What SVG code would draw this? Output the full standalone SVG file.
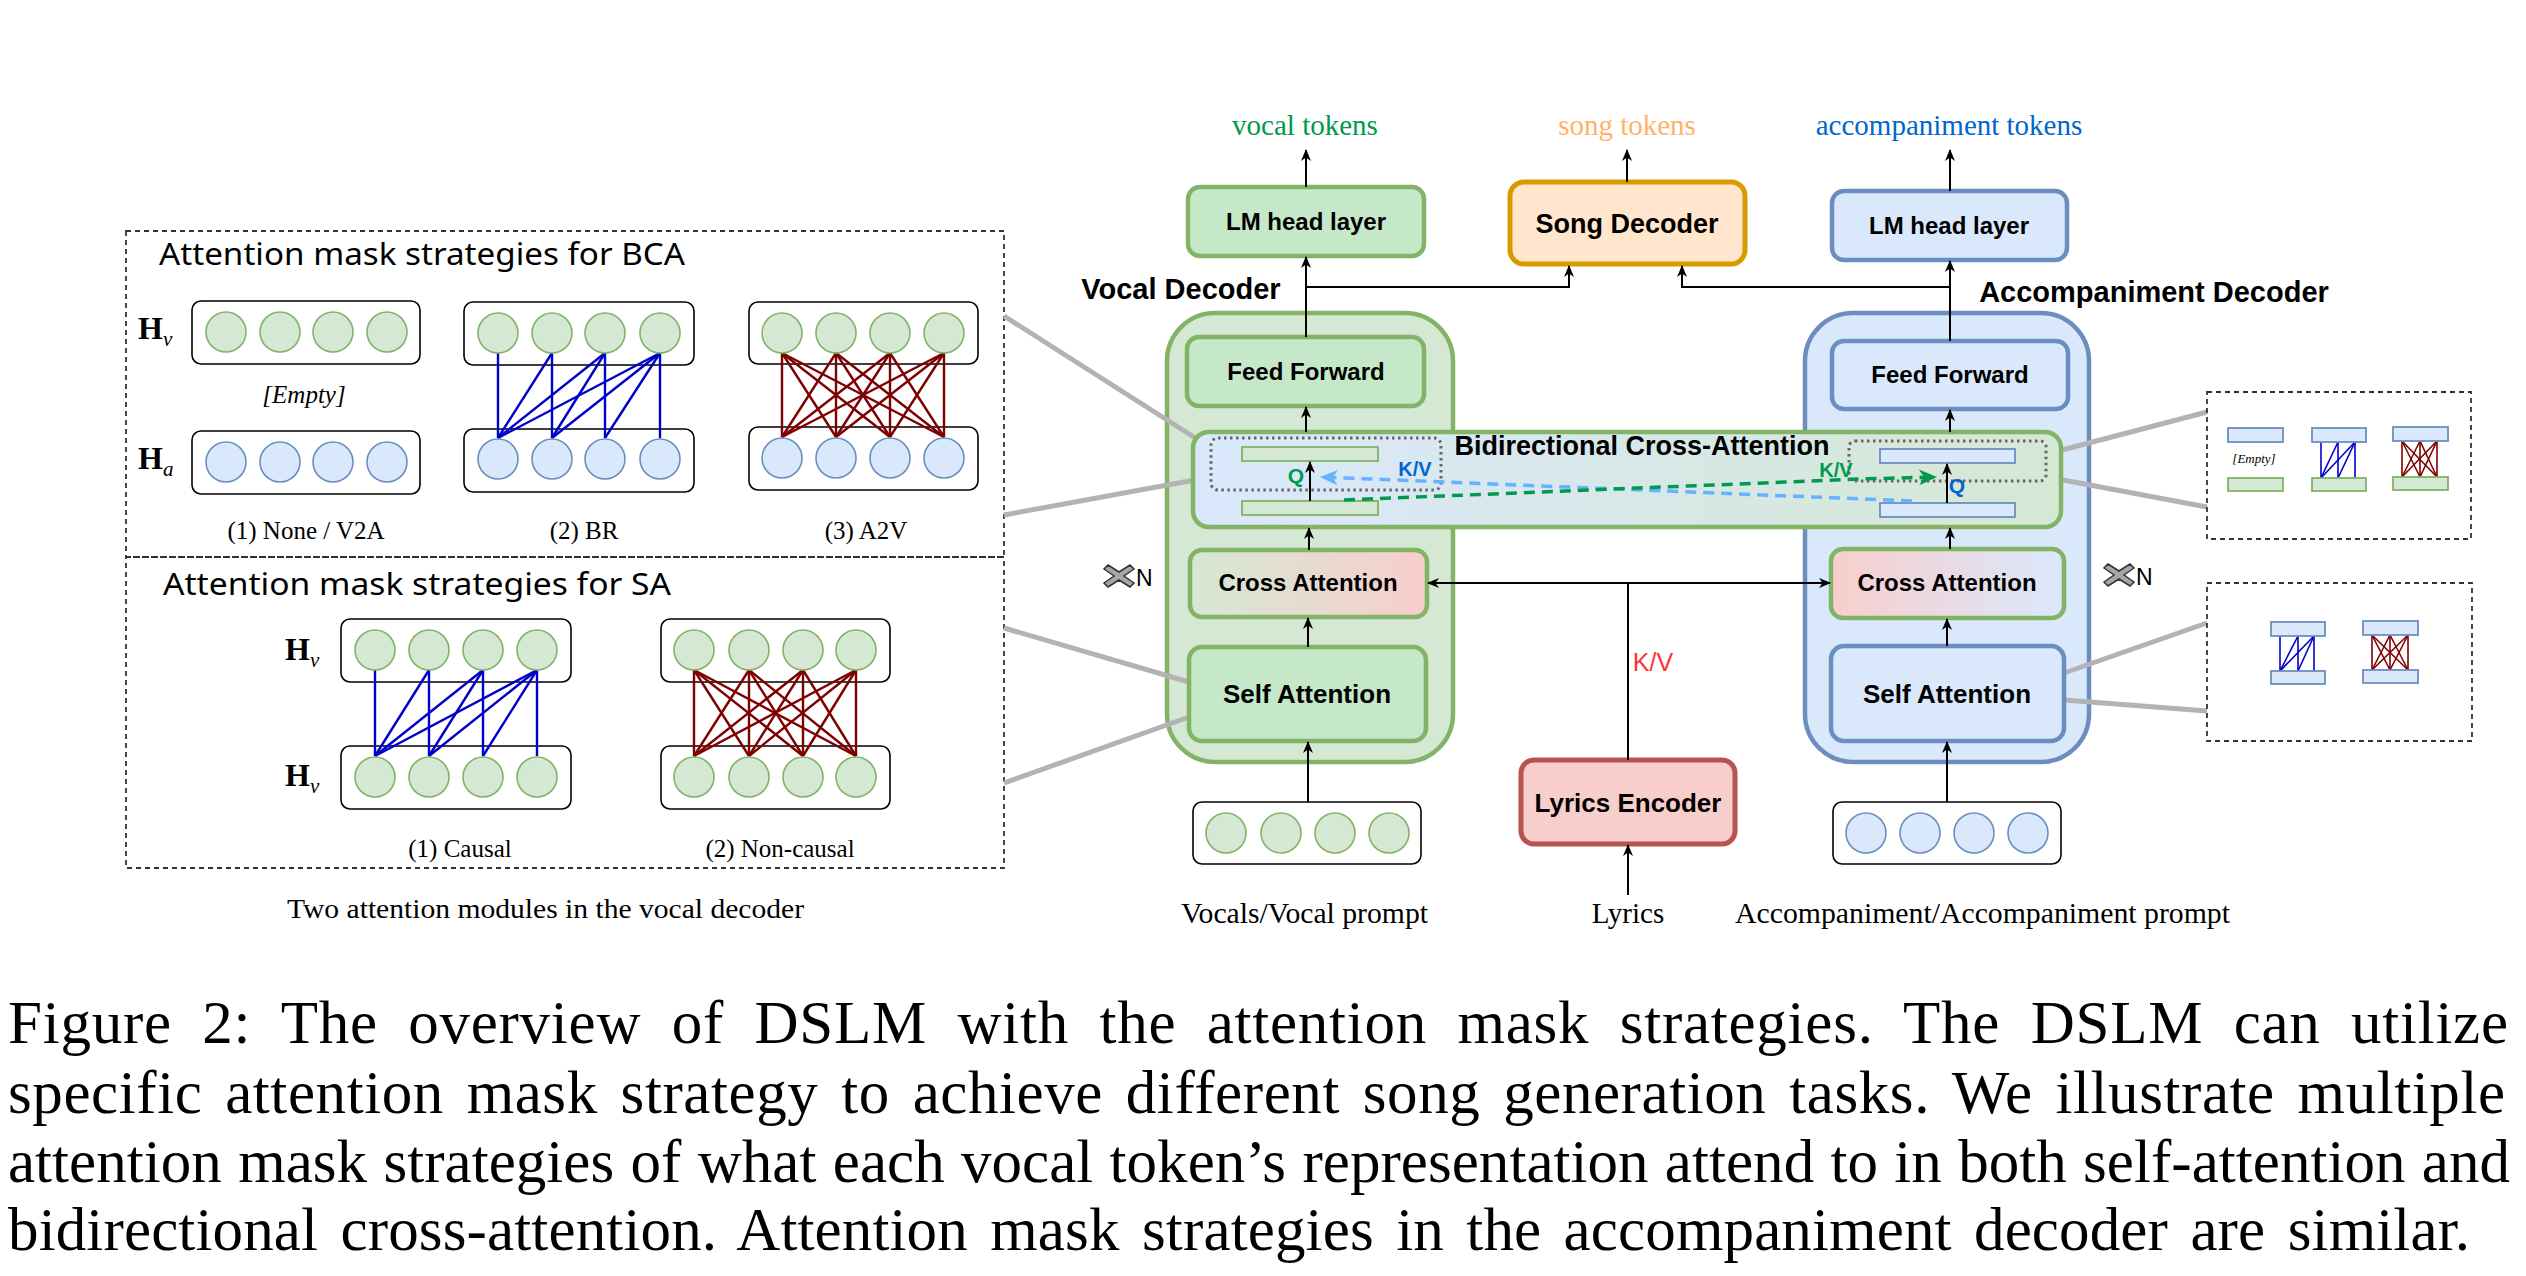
<svg xmlns="http://www.w3.org/2000/svg" width="2526" height="1276" viewBox="0 0 2526 1276">
<style>
.bg{fill:#fff}
.dash{fill:none;stroke:#333;stroke-width:1.8;stroke-dasharray:5 4}
.title{font-family:"Noto Sans","DejaVu Sans",sans-serif;font-size:31px;fill:#000}
.serif{font-family:"Liberation Serif","Times New Roman",serif;fill:#000}
.lab{font-family:"Liberation Serif",serif;font-size:25px;text-anchor:middle;fill:#000}
.tok{font-family:"Liberation Serif",serif;font-size:29px;text-anchor:middle}
.bold{font-family:"Liberation Sans",Arial,sans-serif;font-weight:bold;fill:#000;text-anchor:middle}
.row{fill:#fff;stroke:#000;stroke-width:1.6}
.gc{fill:#d5e8d4;stroke:#82b366;stroke-width:1.6}
.bc{fill:#dae8fc;stroke:#6c8ebf;stroke-width:1.6}
.bl{stroke:#0000cc;stroke-width:2.4;fill:none}
.rd{stroke:#7f0000;stroke-width:2.4;fill:none}
.blt{stroke:#0000cc;stroke-width:1.6;fill:none}
.rdt{stroke:#7f0000;stroke-width:1.6;fill:none}
.gray{stroke:#b3b3b3;stroke-width:5;fill:none}
.arr{stroke:#000;stroke-width:2;fill:none;marker-end:url(#ah)}
.ln{stroke:#000;stroke-width:2;fill:none}
.gbox{fill:#c5e8c8;stroke:#82b366;stroke-width:4.5}
.bbox{fill:#dae8fc;stroke:#6c8ebf;stroke-width:4.5}
.dot{fill:none;stroke:#666;stroke-width:3;stroke-dasharray:2.5 3.5}
.srg{fill:#d5e8d4;stroke:#82b366;stroke-width:1.8}
.srb{fill:#dae8fc;stroke:#6c8ebf;stroke-width:1.8}
.xn{fill:#a6a6a6;stroke:#333;stroke-width:1.5}
.hl{font-family:"Liberation Serif",serif;font-size:32px;font-weight:bold;fill:#000}
.sub{font-style:italic;font-weight:normal;font-size:21px}
</style>
<defs>
<marker id="ah" viewBox="0 0 12 10" refX="11" refY="5" markerWidth="12" markerHeight="10" markerUnits="userSpaceOnUse" orient="auto"><path d="M0,0 L12,5 L0,10 L3.5,5 z" fill="#000"/></marker>
<marker id="ahb" viewBox="0 0 16 14" refX="15" refY="7" markerWidth="18" markerHeight="16" markerUnits="userSpaceOnUse" orient="auto"><path d="M0,0 L16,7 L0,14 L4.5,7 z" fill="#66b2ff"/></marker>
<marker id="ahg" viewBox="0 0 16 14" refX="15" refY="7" markerWidth="18" markerHeight="16" markerUnits="userSpaceOnUse" orient="auto"><path d="M0,0 L16,7 L0,14 L4.5,7 z" fill="#00994d"/></marker>
<linearGradient id="bcaG" x1="0" y1="0" x2="1" y2="0"><stop offset="0" stop-color="#dae8fc"/><stop offset="1" stop-color="#d5e8d4"/></linearGradient>
<linearGradient id="caV" x1="0" y1="0" x2="1" y2="0"><stop offset="0" stop-color="#d5e8d4"/><stop offset="1" stop-color="#f8cecc"/></linearGradient>
<linearGradient id="caA" x1="0" y1="0" x2="1" y2="0"><stop offset="0" stop-color="#f8cecc"/><stop offset="1" stop-color="#dae8fc"/></linearGradient>
</defs>
<rect class="bg" x="0" y="0" width="2526" height="1276"/>

<!-- Left panel: BCA strategies -->
<g id="panel-bca">
<rect class="dash" x="126" y="231" width="878" height="326"/>
<text class="title" x="159" y="265" textLength="526" lengthAdjust="spacingAndGlyphs">Attention mask strategies for BCA</text>
<text class="hl" x="138" y="339">H<tspan class="sub" dy="7">v</tspan></text>
<text class="hl" x="138" y="469">H<tspan class="sub" dy="7">a</tspan></text>
<!-- (1) -->
<rect class="row" x="192" y="301" width="228" height="63" rx="9"/>
<circle class="gc" cx="226" cy="332" r="20"/><circle class="gc" cx="280" cy="332" r="20"/><circle class="gc" cx="333" cy="332" r="20"/><circle class="gc" cx="387" cy="332" r="20"/>
<text class="lab" x="304" y="403" font-style="italic">[Empty]</text>
<rect class="row" x="192" y="431" width="228" height="63" rx="9"/>
<circle class="bc" cx="226" cy="462" r="20"/><circle class="bc" cx="280" cy="462" r="20"/><circle class="bc" cx="333" cy="462" r="20"/><circle class="bc" cx="387" cy="462" r="20"/>
<text class="lab" x="306" y="539">(1) None / V2A</text>
<!-- (2) BR -->
<rect class="row" x="464" y="302" width="230" height="63" rx="9"/>
<rect class="row" x="464" y="429" width="230" height="63" rx="9"/>
<g class="bl">
<line x1="498" y1="353" x2="498" y2="438"/>
<line x1="552" y1="353" x2="498" y2="438"/><line x1="552" y1="353" x2="552" y2="438"/>
<line x1="605" y1="353" x2="498" y2="438"/><line x1="605" y1="353" x2="552" y2="438"/><line x1="605" y1="353" x2="605" y2="438"/>
<line x1="660" y1="353" x2="498" y2="438"/><line x1="660" y1="353" x2="552" y2="438"/><line x1="660" y1="353" x2="605" y2="438"/><line x1="660" y1="353" x2="660" y2="438"/>
</g>
<circle class="gc" cx="498" cy="333" r="20"/><circle class="gc" cx="552" cy="333" r="20"/><circle class="gc" cx="605" cy="333" r="20"/><circle class="gc" cx="660" cy="333" r="20"/>
<circle class="bc" cx="498" cy="459" r="20"/><circle class="bc" cx="552" cy="459" r="20"/><circle class="bc" cx="605" cy="459" r="20"/><circle class="bc" cx="660" cy="459" r="20"/>
<text class="lab" x="584" y="539">(2) BR</text>
<!-- (3) A2V -->
<rect class="row" x="749" y="302" width="229" height="62" rx="9"/>
<rect class="row" x="749" y="427" width="229" height="63" rx="9"/>
<g class="rd">
<line x1="782" y1="353" x2="782" y2="437"/><line x1="782" y1="353" x2="836" y2="437"/><line x1="782" y1="353" x2="890" y2="437"/><line x1="782" y1="353" x2="944" y2="437"/>
<line x1="836" y1="353" x2="782" y2="437"/><line x1="836" y1="353" x2="836" y2="437"/><line x1="836" y1="353" x2="890" y2="437"/><line x1="836" y1="353" x2="944" y2="437"/>
<line x1="890" y1="353" x2="782" y2="437"/><line x1="890" y1="353" x2="836" y2="437"/><line x1="890" y1="353" x2="890" y2="437"/><line x1="890" y1="353" x2="944" y2="437"/>
<line x1="944" y1="353" x2="782" y2="437"/><line x1="944" y1="353" x2="836" y2="437"/><line x1="944" y1="353" x2="890" y2="437"/><line x1="944" y1="353" x2="944" y2="437"/>
</g>
<circle class="gc" cx="782" cy="333" r="20"/><circle class="gc" cx="836" cy="333" r="20"/><circle class="gc" cx="890" cy="333" r="20"/><circle class="gc" cx="944" cy="333" r="20"/>
<circle class="bc" cx="782" cy="458" r="20"/><circle class="bc" cx="836" cy="458" r="20"/><circle class="bc" cx="890" cy="458" r="20"/><circle class="bc" cx="944" cy="458" r="20"/>
<text class="lab" x="866" y="539">(3) A2V</text>
</g>

<!-- Left panel: SA strategies -->
<g id="panel-sa">
<rect class="dash" x="126" y="557" width="878" height="311"/>
<text class="title" x="163" y="595" textLength="508" lengthAdjust="spacingAndGlyphs">Attention mask strategies for SA</text>
<text class="hl" x="285" y="660">H<tspan class="sub" dy="7">v</tspan></text>
<text class="hl" x="285" y="786">H<tspan class="sub" dy="7">v</tspan></text>
<rect class="row" x="341" y="619" width="230" height="63" rx="9"/>
<rect class="row" x="341" y="746" width="230" height="63" rx="9"/>
<g class="bl">
<line x1="375" y1="670" x2="375" y2="756"/>
<line x1="429" y1="670" x2="375" y2="756"/><line x1="429" y1="670" x2="429" y2="756"/>
<line x1="483" y1="670" x2="375" y2="756"/><line x1="483" y1="670" x2="429" y2="756"/><line x1="483" y1="670" x2="483" y2="756"/>
<line x1="537" y1="670" x2="375" y2="756"/><line x1="537" y1="670" x2="429" y2="756"/><line x1="537" y1="670" x2="483" y2="756"/><line x1="537" y1="670" x2="537" y2="756"/>
</g>
<circle class="gc" cx="375" cy="650" r="20"/><circle class="gc" cx="429" cy="650" r="20"/><circle class="gc" cx="483" cy="650" r="20"/><circle class="gc" cx="537" cy="650" r="20"/>
<circle class="gc" cx="375" cy="777" r="20"/><circle class="gc" cx="429" cy="777" r="20"/><circle class="gc" cx="483" cy="777" r="20"/><circle class="gc" cx="537" cy="777" r="20"/>
<text class="lab" x="460" y="857">(1) Causal</text>
<rect class="row" x="661" y="619" width="229" height="63" rx="9"/>
<rect class="row" x="661" y="746" width="229" height="63" rx="9"/>
<g class="rd">
<line x1="694" y1="670" x2="694" y2="756"/><line x1="694" y1="670" x2="749" y2="756"/><line x1="694" y1="670" x2="803" y2="756"/><line x1="694" y1="670" x2="856" y2="756"/>
<line x1="749" y1="670" x2="694" y2="756"/><line x1="749" y1="670" x2="749" y2="756"/><line x1="749" y1="670" x2="803" y2="756"/><line x1="749" y1="670" x2="856" y2="756"/>
<line x1="803" y1="670" x2="694" y2="756"/><line x1="803" y1="670" x2="749" y2="756"/><line x1="803" y1="670" x2="803" y2="756"/><line x1="803" y1="670" x2="856" y2="756"/>
<line x1="856" y1="670" x2="694" y2="756"/><line x1="856" y1="670" x2="749" y2="756"/><line x1="856" y1="670" x2="803" y2="756"/><line x1="856" y1="670" x2="856" y2="756"/>
</g>
<circle class="gc" cx="694" cy="650" r="20"/><circle class="gc" cx="749" cy="650" r="20"/><circle class="gc" cx="803" cy="650" r="20"/><circle class="gc" cx="856" cy="650" r="20"/>
<circle class="gc" cx="694" cy="777" r="20"/><circle class="gc" cx="749" cy="777" r="20"/><circle class="gc" cx="803" cy="777" r="20"/><circle class="gc" cx="856" cy="777" r="20"/>
<text class="lab" x="780" y="857">(2) Non-causal</text>
</g>
<text class="serif" x="287" y="918" font-size="28" textLength="517" lengthAdjust="spacingAndGlyphs">Two attention modules in the vocal decoder</text>

<!-- Containers -->
<g id="vocal-decoder">
<rect x="1167" y="313" width="286" height="449" rx="48" fill="#d5e8d4" stroke="#82b366" stroke-width="4.5"/>
<text class="bold" x="1181" y="299" font-size="29">Vocal Decoder</text>
</g>
<g id="acc-decoder">
<rect x="1805" y="313" width="284" height="449" rx="48" fill="#dae8fc" stroke="#6c8ebf" stroke-width="4.5"/>
<text class="bold" x="2154" y="302" font-size="29">Accompaniment Decoder</text>
</g>

<!-- Gray callout lines -->
<g id="callouts" class="gray">
<line x1="1004" y1="316" x2="1211" y2="448"/>
<line x1="1004" y1="515" x2="1211" y2="477"/>
<line x1="1004" y1="628" x2="1189" y2="682"/>
<line x1="1004" y1="783" x2="1189" y2="717"/>
<line x1="2043" y1="455" x2="2207" y2="412"/>
<line x1="2047" y1="477" x2="2207" y2="507"/>
<line x1="2064" y1="673" x2="2207" y2="623"/>
<line x1="2064" y1="700" x2="2207" y2="711"/>
</g>

<!-- Bidirectional cross attention band -->
<g id="bca">
<rect x="1193" y="432" width="868" height="95" rx="16" fill="url(#bcaG)" stroke="#82b366" stroke-width="4.5"/>
<text class="bold" x="1642" y="455" font-size="27">Bidirectional Cross-Attention</text>
<rect class="dot" x="1211" y="438" width="230" height="52" rx="7"/>
<rect class="dot" x="1849" y="441" width="197" height="40" rx="6"/>
<rect class="srg" x="1242" y="447" width="136" height="14"/>
<rect class="srg" x="1242" y="501" width="136" height="14"/>
<rect class="srb" x="1880" y="449" width="135" height="14"/>
<rect class="srb" x="1880" y="503" width="135" height="14"/>
<text x="1296" y="483" font-family="Liberation Sans,Arial,sans-serif" font-weight="bold" font-size="21" fill="#00994d" text-anchor="middle">Q</text>
<text x="1415" y="476" font-family="Liberation Sans,Arial,sans-serif" font-weight="bold" font-size="20" fill="#0066cc" text-anchor="middle">K/V</text>
<text x="1836" y="477" font-family="Liberation Sans,Arial,sans-serif" font-weight="bold" font-size="20" fill="#00994d" text-anchor="middle">K/V</text>
<text x="1957" y="493" font-family="Liberation Sans,Arial,sans-serif" font-weight="bold" font-size="21" fill="#0066cc" text-anchor="middle">Q</text>
</g>

<!-- Boxes -->
<g id="lm-vocal"><rect class="gbox" x="1188" y="187" width="236" height="69" rx="12"/><text class="bold" x="1306" y="230" font-size="24">LM head layer</text></g>
<g id="song-decoder"><rect x="1510" y="182" width="235" height="82" rx="14" fill="#ffe6cc" stroke="#d79b00" stroke-width="5"/><text class="bold" x="1627" y="233" font-size="27">Song Decoder</text></g>
<g id="lm-acc"><rect class="bbox" x="1832" y="191" width="235" height="69" rx="12"/><text class="bold" x="1949" y="234" font-size="24">LM head layer</text></g>
<g id="ff-vocal"><rect class="gbox" x="1187" y="337" width="237" height="69" rx="12"/><text class="bold" x="1306" y="380" font-size="24">Feed Forward</text></g>
<g id="ff-acc"><rect class="bbox" x="1832" y="341" width="236" height="68" rx="12"/><text class="bold" x="1950" y="383" font-size="24">Feed Forward</text></g>
<g id="ca-vocal"><rect x="1190" y="550" width="237" height="67" rx="12" fill="url(#caV)" stroke="#82b366" stroke-width="4.5"/><text class="bold" x="1308" y="591" font-size="24">Cross Attention</text></g>
<g id="ca-acc"><rect x="1831" y="549" width="233" height="69" rx="12" fill="url(#caA)" stroke="#82b366" stroke-width="4.5"/><text class="bold" x="1947" y="591" font-size="24">Cross Attention</text></g>
<g id="sa-vocal"><rect class="gbox" x="1189" y="647" width="237" height="94" rx="13"/><text class="bold" x="1307" y="703" font-size="26">Self Attention</text></g>
<g id="sa-acc"><rect class="bbox" x="1831" y="646" width="233" height="95" rx="13"/><text class="bold" x="1947" y="703" font-size="26">Self Attention</text></g>
<g id="lyrics-encoder"><rect x="1521" y="760" width="214" height="84" rx="13" fill="#f8cecc" stroke="#b85450" stroke-width="5"/><text class="bold" x="1628" y="812" font-size="26">Lyrics Encoder</text></g>
<g id="input-vocal">
<rect class="row" x="1193" y="802" width="228" height="62" rx="9"/>
<circle class="gc" cx="1226" cy="833" r="20"/><circle class="gc" cx="1281" cy="833" r="20"/><circle class="gc" cx="1335" cy="833" r="20"/><circle class="gc" cx="1389" cy="833" r="20"/>
</g>
<g id="input-acc">
<rect class="row" x="1833" y="802" width="228" height="62" rx="9"/>
<circle class="bc" cx="1866" cy="833" r="20"/><circle class="bc" cx="1920" cy="833" r="20"/><circle class="bc" cx="1974" cy="833" r="20"/><circle class="bc" cx="2028" cy="833" r="20"/>
</g>

<!-- xN -->
<g id="xn-left">
<path class="xn" d="M1108,565 L1119,572 L1130,565 L1134,569 L1124,576 L1134,583 L1130,587 L1119,580 L1108,587 L1104,583 L1114,576 L1104,569 z"/>
<text x="1136" y="586" font-family="Liberation Sans,Arial,sans-serif" font-size="23" fill="#000">N</text>
</g>
<g id="xn-right">
<path class="xn" d="M2108,564 L2119,571 L2130,564 L2134,568 L2124,575 L2134,582 L2130,586 L2119,579 L2108,586 L2104,582 L2114,575 L2104,568 z"/>
<text x="2136" y="585" font-family="Liberation Sans,Arial,sans-serif" font-size="23" fill="#000">N</text>
</g>

<!-- Right mini panels -->
<g id="mini-bca">
<rect class="dash" x="2207" y="392" width="264" height="147"/>
<rect class="srb" x="2228" y="428" width="55" height="14"/>
<text class="serif" x="2254" y="463" font-size="13" font-style="italic" text-anchor="middle">[Empty]</text>
<rect class="srg" x="2228" y="478" width="55" height="13"/>
<g class="blt">
<line x1="2321" y1="442" x2="2321" y2="478"/><line x1="2338" y1="442" x2="2338" y2="478"/><line x1="2355" y1="442" x2="2355" y2="478"/>
<line x1="2321" y1="478" x2="2338" y2="442"/><line x1="2321" y1="478" x2="2355" y2="442"/><line x1="2338" y1="478" x2="2355" y2="442"/>
</g>
<rect class="srb" x="2312" y="428" width="54" height="14"/>
<rect class="srg" x="2312" y="478" width="54" height="13"/>
<g class="rdt">
<line x1="2402" y1="441" x2="2402" y2="477"/><line x1="2402" y1="441" x2="2420" y2="477"/><line x1="2402" y1="441" x2="2437" y2="477"/>
<line x1="2420" y1="441" x2="2402" y2="477"/><line x1="2420" y1="441" x2="2420" y2="477"/><line x1="2420" y1="441" x2="2437" y2="477"/>
<line x1="2437" y1="441" x2="2402" y2="477"/><line x1="2437" y1="441" x2="2420" y2="477"/><line x1="2437" y1="441" x2="2437" y2="477"/>
</g>
<rect class="srb" x="2393" y="427" width="55" height="14"/>
<rect class="srg" x="2393" y="477" width="55" height="13"/>
</g>
<g id="mini-sa">
<rect class="dash" x="2207" y="583" width="265" height="158"/>
<g class="blt">
<line x1="2280" y1="636" x2="2280" y2="671"/><line x1="2298" y1="636" x2="2298" y2="671"/><line x1="2314" y1="636" x2="2314" y2="671"/>
<line x1="2280" y1="671" x2="2298" y2="636"/><line x1="2280" y1="671" x2="2314" y2="636"/><line x1="2298" y1="671" x2="2314" y2="636"/>
</g>
<rect class="srb" x="2271" y="622" width="54" height="14"/>
<rect class="srb" x="2271" y="671" width="54" height="13"/>
<g class="rdt">
<line x1="2372" y1="635" x2="2372" y2="670"/><line x1="2372" y1="635" x2="2390" y2="670"/><line x1="2372" y1="635" x2="2408" y2="670"/>
<line x1="2390" y1="635" x2="2372" y2="670"/><line x1="2390" y1="635" x2="2390" y2="670"/><line x1="2390" y1="635" x2="2408" y2="670"/>
<line x1="2408" y1="635" x2="2372" y2="670"/><line x1="2408" y1="635" x2="2390" y2="670"/><line x1="2408" y1="635" x2="2408" y2="670"/>
</g>
<rect class="srb" x="2363" y="621" width="55" height="14"/>
<rect class="srb" x="2363" y="670" width="55" height="13"/>
</g>

<!-- Connectors -->
<g id="connectors">
<line class="arr" x1="1306" y1="187" x2="1306" y2="150"/>
<line class="arr" x1="1627" y1="182" x2="1627" y2="150"/>
<line class="arr" x1="1950" y1="191" x2="1950" y2="150"/>
<line class="arr" x1="1306" y1="337" x2="1306" y2="257"/>
<line class="arr" x1="1950" y1="341" x2="1950" y2="261"/>
<polyline class="arr" points="1306,287 1569,287 1569,266"/>
<polyline class="arr" points="1950,287 1682,287 1682,266"/>
<line class="arr" x1="1306" y1="432" x2="1306" y2="407"/>
<line class="arr" x1="1950" y1="432" x2="1950" y2="410"/>
<line class="arr" x1="1309" y1="550" x2="1309" y2="528"/>
<line class="arr" x1="1950" y1="549" x2="1950" y2="528"/>
<line class="arr" x1="1308" y1="647" x2="1308" y2="618"/>
<line class="arr" x1="1947" y1="646" x2="1947" y2="619"/>
<line class="arr" x1="1308" y1="802" x2="1308" y2="742"/>
<line class="arr" x1="1947" y1="802" x2="1947" y2="742"/>
<line class="arr" x1="1310" y1="501" x2="1310" y2="462"/>
<line class="arr" x1="1947" y1="503" x2="1947" y2="464"/>
<line class="arr" x1="1628" y1="895" x2="1628" y2="845"/>
<line class="ln" x1="1628" y1="760" x2="1628" y2="583"/>
<line class="arr" x1="1628" y1="583" x2="1428" y2="583"/>
<line class="arr" x1="1628" y1="583" x2="1830" y2="583"/>
<line x1="1912" y1="501" x2="1321" y2="477" stroke="#66b2ff" stroke-width="3.5" stroke-dasharray="11 7" marker-end="url(#ahb)"/>
<polyline points="1344,500 1860,479 1936,477" fill="none" stroke="#00994d" stroke-width="3.5" stroke-dasharray="11 7" marker-end="url(#ahg)"/>
</g>
<text x="1653" y="671" font-family="Liberation Sans,Arial,sans-serif" font-size="25" fill="#ff3333" text-anchor="middle">K/V</text>

<!-- Token labels -->
<text class="tok" x="1305" y="135" fill="#00994d">vocal tokens</text>
<text class="tok" x="1627" y="135" fill="#ffb366">song tokens</text>
<text class="tok" x="1949" y="135" fill="#0066cc">accompaniment tokens</text>
<text class="serif" x="1181" y="923" font-size="29" textLength="247" lengthAdjust="spacingAndGlyphs">Vocals/Vocal prompt</text>
<text class="serif" x="1628" y="923" font-size="29" text-anchor="middle">Lyrics</text>
<text class="serif" x="1735" y="923" font-size="29" textLength="495" lengthAdjust="spacingAndGlyphs">Accompaniment/Accompaniment prompt</text>

<!-- Caption -->
<g id="caption" class="serif" font-size="61">
<text x="8" y="1043" word-spacing="14.5" textLength="2500" lengthAdjust="spacing">Figure 2:  The overview of DSLM with the attention mask strategies.  The DSLM can utilize</text>
<text x="8" y="1113" word-spacing="7" textLength="2497" lengthAdjust="spacing">specific attention mask strategy to achieve different song generation tasks.  We illustrate multiple</text>
<text x="8" y="1182" word-spacing="1" textLength="2502" lengthAdjust="spacing">attention mask strategies of what each vocal token’s representation attend to in both self-attention and</text>
<text x="8" y="1250" word-spacing="7" textLength="2462" lengthAdjust="spacing">bidirectional cross-attention. Attention mask strategies in the accompaniment decoder are similar.</text>
</g>
</svg>
